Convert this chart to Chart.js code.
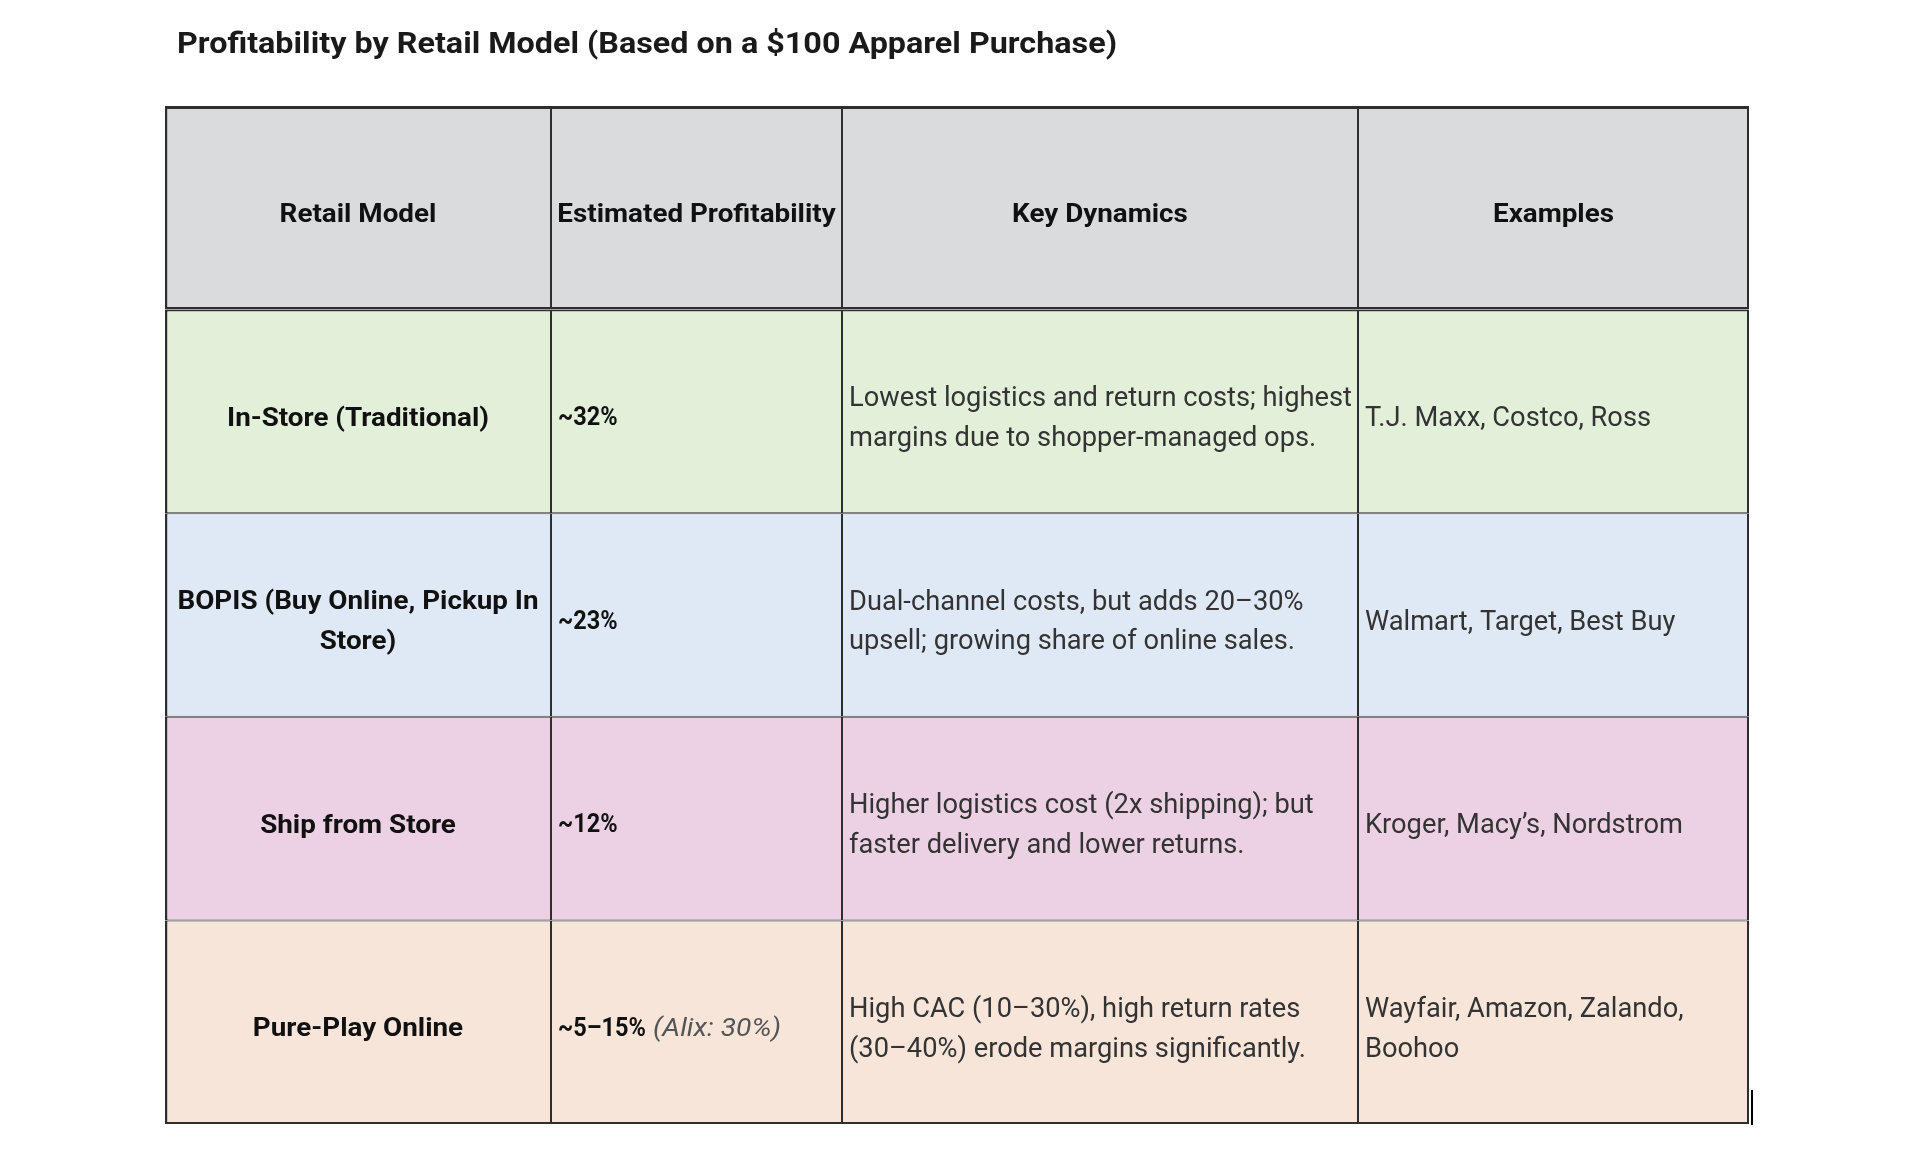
<!DOCTYPE html>
<html>
<head>
<meta charset="utf-8">
<title>Profitability by Retail Model</title>
<script src="https://cdn.jsdelivr.net/npm/chart.js@4.4.1/dist/chart.umd.min.js"></script>
<style>
  html, body { margin: 0; background: #fff; }
  #wrap { width: 1920px; height: 1150px; }
</style>
</head>
<body>
<div id="wrap"><canvas id="profit-table"></canvas></div>
<script>
// table content
const title = 'Profitability by Retail Model (Based on a $100 Apparel Purchase)';
const columns = ['Retail Model', 'Estimated Profitability', 'Key Dynamics', 'Examples'];
const models = ['In-Store (Traditional)', 'BOPIS (Buy Online, Pickup In\nStore)', 'Ship from Store', 'Pure-Play Online'];
const profitability = ['~32%', '~23%', '~12%', '~5–15%'];
const profitNotes = ['', '', '', '(Alix: 30%)'];
const dynamics = [
    'Lowest logistics and return costs; highest\nmargins due to shopper-managed ops.',
    'Dual-channel costs, but adds 20–30%\nupsell; growing share of online sales.',
    'Higher logistics cost (2x shipping); but\nfaster delivery and lower returns.',
    'High CAC (10–30%), high return rates\n(30–40%) erode margins significantly.'
];
const examples = ['T.J. Maxx, Costco, Ross', 'Walmart, Target, Best Buy', 'Kroger, Macy’s, Nordstrom', 'Wayfair, Amazon, Zalando,\nBoohoo'];

// layout / style (not data)
const colWidths = [386, 291, 516, 391];
const rowFills = ['#dadbdd', '#e2efd9', '#dfe9f6', '#ecd1e5', '#f7e5d9'];
const FONT = 'Roboto';
const lineGap = 39.5;

const rowKeys = ['header'].concat(models);
const cells = [
    [columns[0]].concat(models),
    [columns[1]].concat(profitability),
    [columns[2]].concat(dynamics),
    [columns[3]].concat(examples)
];
const lastRow = rowKeys.length - 1;

// Aptos is not installed: stretch Roboto horizontally to the widths measured in the picture
let fit = null;
function measureFit(ctx) {
    const f = (font, sample, target) => { ctx.font = font; return target / ctx.measureText(sample).width; };
    return {
        title: f('bold 29px ' + FONT, title, 940),
        bold: f('bold 26px ' + FONT, 'In-Store (Traditional)', 262),
        prof: f('bold 25px ' + FONT, '~5–15%', 88),
        body: f('27px ' + FONT, 'Lowest logistics and return costs; highest', 503),
        note: f('italic 25px ' + FONT, '(Alix: 30%)', 128)
    };
}

function drawLines(ctx, text, x, cy, size, k, align) {
    const lines = text.split('\n');
    const cap = size * 0.711;
    const top = cy - (lines.length - 1) * lineGap / 2 + cap / 2;
    lines.forEach((ln, i) => {
        ctx.save();
        ctx.translate(x, top + i * lineGap);
        ctx.scale(k, 1);
        ctx.textAlign = align;
        ctx.fillText(ln, 0, 0);
        ctx.restore();
    });
}

const cellText = {
    id: 'cellText',
    afterDatasetsDraw(chart) {
        const ctx = chart.ctx;
        if (!fit) fit = measureFit(ctx);
        ctx.save();
        ctx.textBaseline = 'alphabetic';

        chart.data.datasets.forEach((ds, c) => {
            chart.getDatasetMeta(c).data.forEach((bar, r) => {
                const p = bar.getProps(['x', 'y', 'base'], true);
                const left = Math.min(p.x, p.base), right = Math.max(p.x, p.base);
                const cy = p.y + 5;
                const txt = cells[c][r];
                if (r === 0 || c === 0) {
                    ctx.font = 'bold 26px ' + FONT;
                    ctx.fillStyle = '#111';
                    drawLines(ctx, txt, (left + right) / 2, cy, 26, fit.bold, 'center');
                } else if (c === 1) {
                    ctx.font = 'bold 25px ' + FONT;
                    ctx.fillStyle = '#111';
                    drawLines(ctx, txt, left + 7, cy, 25, fit.prof, 'left');
                    const note = profitNotes[r - 1];
                    if (note) {
                        const w = ctx.measureText(txt).width * fit.prof;
                        ctx.font = 'italic 25px ' + FONT;
                        ctx.fillStyle = '#555';
                        drawLines(ctx, note, left + 7 + w + 7, cy, 25, fit.note, 'left');
                    }
                } else {
                    ctx.font = '27px ' + FONT;
                    ctx.fillStyle = '#333';
                    drawLines(ctx, txt, left + 7, cy, 27, fit.body, 'left');
                }
            });
        });

        // title above the table
        const area = chart.chartArea;
        ctx.font = 'bold 29px ' + FONT;
        ctx.fillStyle = '#1a1a1a';
        ctx.textAlign = 'left';
        ctx.save();
        ctx.translate(area.left + 12, 53);
        ctx.scale(fit.title, 1);
        ctx.fillText(title, 0, 0);
        ctx.restore();

        // little stray stroke at the lower right corner of the screenshot
        ctx.fillStyle = '#000';
        ctx.fillRect(area.right + 2, area.bottom - 34, 2, 35);
        ctx.restore();
    }
};

new Chart('profit-table', {
    type: 'bar',
    data: {
        labels: rowKeys,
        datasets: colWidths.map((w, c) => ({
            label: columns[c],
            data: rowKeys.map(() => w),
            backgroundColor: rowFills,
            borderColor: '#2e2e2e',
            borderSkipped: false,
            inflateAmount: 0,
            borderWidth: (ctx) => {
                const r = ctx.dataIndex;
                return {
                    left: c === 0 ? 2.5 : 1,
                    right: c === colWidths.length - 1 ? 2 : 1,
                    top: r === 0 ? 3 : (r === 1 ? 2 : 1),
                    bottom: r === 0 ? 2.5 : (r === lastRow ? 2 : 1)
                };
            },
            categoryPercentage: 1,
            barPercentage: 1
        }))
    },
    options: {
        indexAxis: 'y',
        responsive: true,
        maintainAspectRatio: false,
        devicePixelRatio: 1,
        animation: false,
        events: [],
        layout: {
            padding: { left: 165, right: 171, top: 106, bottom: 26 }
        },
        scales: {
            x: {
                type: 'linear',
                stacked: true,
                min: 0,
                max: colWidths.reduce((a, b) => a + b, 0),
                display: false
            },
            y: {
                type: 'category',
                stacked: true,
                display: false
            }
        },
        plugins: {
            legend: { display: false },
            tooltip: { enabled: false },
            title: { display: false }
        }
    },
    plugins: [cellText]
});
</script>
</body>
</html>
